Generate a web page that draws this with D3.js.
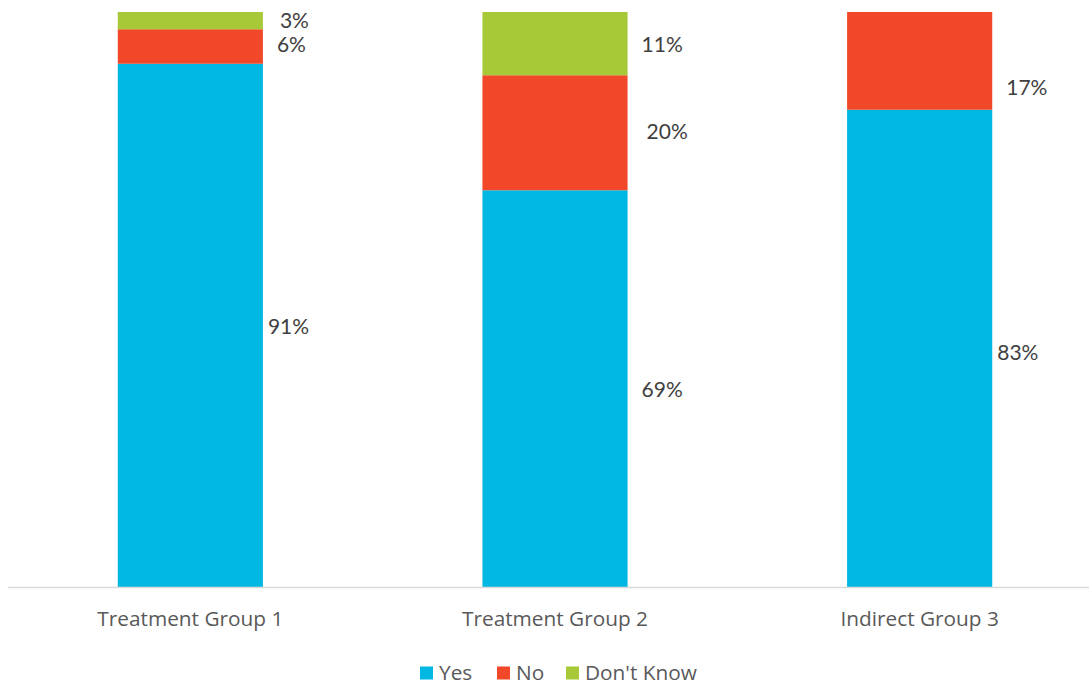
<!DOCTYPE html>
<html>
<head>
<meta charset="utf-8">
<script src="https://cdn.jsdelivr.net/npm/d3@7"></script>
<style>
  html, body { margin: 0; padding: 0; background: #fff; }
  svg { display: block; }
</style>
</head>
<body>
<svg id="chart" width="1089" height="685"></svg>
<script>
// Survey responses by group (percent)
const groups = ["Treatment Group 1", "Treatment Group 2", "Indirect Group 3"];
const seriesNames = ["Yes", "No", "Don't Know"];
const yesValues = [91, 69, 83];
const noValues = [6, 20, 17];
const dontKnowValues = [3, 11, 0];
const seriesColors = ["#00b8e2", "#f04828", "#a8c937"];

// Hand-placed label offsets [dx, dy] per series, per group
const labelNudge = [
  [[0, 1], [9, 1], [0, 4]],
  [[9, -2], [14, -1], [9, 27]],
  [[12, 0], [9, 1], [0, 0]]
];

const svg = d3.select("#chart");
const W = 1089, H = 685;
const margin = { left: 8, right: -13, top: 12, bottom: 98 };
const baseY = H - margin.bottom;
const uiFont = "'Open Sans', sans-serif";

const rows = groups.map((g, i) => ({
  group: g,
  "Yes": yesValues[i],
  "No": noValues[i],
  "Don't Know": dontKnowValues[i]
}));
const stacked = d3.stack().keys(seriesNames)(rows);

const x = d3.scaleBand()
  .domain(groups)
  .range([margin.left, W - margin.right])
  .paddingInner(0.602)
  .paddingOuter(0.301);

const y = d3.scaleLinear().domain([0, 100]).range([baseY, margin.top]);

const color = d3.scaleOrdinal().domain(seriesNames).range(seriesColors);

// bars
const layers = svg.append("g").selectAll("g")
  .data(stacked)
  .join("g")
  .attr("fill", d => color(d.key));

layers.selectAll("rect")
  .data(d => d.filter(s => s[1] - s[0] > 0))
  .join("rect")
  .attr("x", d => x(d.data.group))
  .attr("y", d => y(d[1]))
  .attr("width", x.bandwidth())
  .attr("height", d => y(d[0]) - y(d[1]));

// value labels to the right of each segment
stacked.forEach((layer, si) => {
  layer.forEach((s, gi) => {
    const v = s[1] - s[0];
    if (v <= 0) return;
    const [dx, dy] = labelNudge[si][gi];
    svg.append("text")
      .attr("x", x(s.data.group) + x.bandwidth() + 5 + dx)
      .attr("y", (y(s[0]) + y(s[1])) / 2 + dy)
      .attr("dy", "0.35em")
      .attr("font-family", "Lato, sans-serif")
      .attr("font-size", 21)
      .attr("fill", "#404040")
      .text(v + "%");
  });
});

// category axis
const axis = svg.append("g")
  .attr("transform", `translate(0,${baseY})`)
  .call(d3.axisBottom(x).tickSize(0).tickPadding(24));
axis.attr("font-family", null).attr("font-size", null);
axis.select(".domain").attr("stroke", "#d9d9d9").attr("stroke-width", 1.5)
  .attr("d", `M${margin.left},0.5H${W}`);
axis.selectAll("text")
  .style("font-family", uiFont)
  .style("font-size", "20.8px")
  .attr("fill", "#595959");

// legend
const legendItems = [
  { name: "Yes", x: 420 },
  { name: "No", x: 497 },
  { name: "Don't Know", x: 566 }
];
const legend = svg.append("g").attr("transform", "translate(0,673)");
legendItems.forEach(item => {
  legend.append("rect")
    .attr("x", item.x).attr("y", -6.5)
    .attr("width", 13).attr("height", 13)
    .attr("fill", color(item.name));
  legend.append("text")
    .attr("x", item.x + 19).attr("y", 0)
    .attr("dy", "0.35em")
    .style("font-family", uiFont)
    .style("font-size", "20.8px")
    .attr("fill", "#595959")
    .text(item.name);
});
</script>
</body>
</html>
